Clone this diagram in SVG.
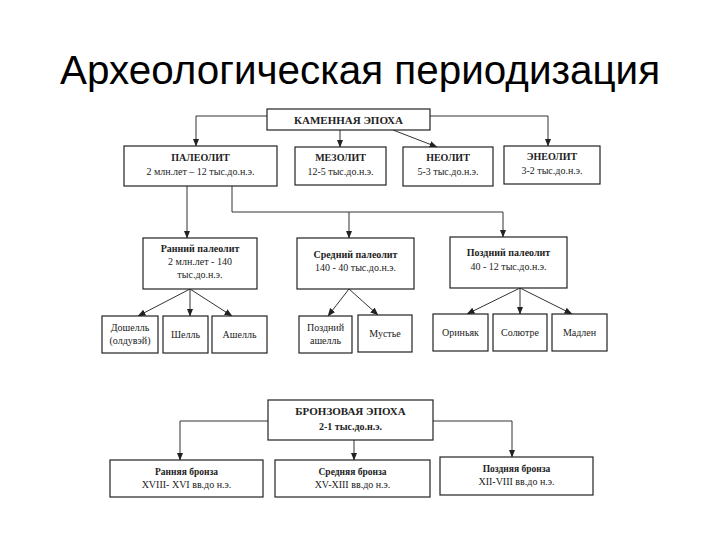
<svg xmlns="http://www.w3.org/2000/svg" width="720" height="540" viewBox="0 0 720 540">
<defs>
<marker id="arr" markerUnits="userSpaceOnUse" markerWidth="8" markerHeight="8" viewBox="0 0 8 8" refX="7.5" refY="4" orient="auto">
<path d="M0,0.8 L8,4 L0,7.2 Z" fill="#222"/>
</marker>
<style>
.box{fill:#fff;stroke:#222;stroke-width:1.2}
.t{font-family:"Liberation Serif","Times New Roman",serif;fill:#222;text-anchor:middle}
.b{font-weight:bold}
.s11{font-size:11px}
.s10{font-size:10px}
.s9{font-size:9.5px}
.c{fill:none;stroke:#333;stroke-width:1;marker-end:url(#arr)}
.title{font-family:"Liberation Sans",Arial,sans-serif;font-size:40px;fill:#000}
</style>
</defs>
<rect width="720" height="540" fill="#fff"/>
<text class="title" x="60" y="84" textLength="600" lengthAdjust="spacingAndGlyphs">Археологическая периодизация</text>

<g id="connectors">
<path class="c" d="M267,116 H196 V146"/>
<path class="c" d="M430,116 H548 V146"/>
<path class="c" d="M340,130 V147"/>
<path class="c" d="M393,130 L437,147"/>
<path class="c" d="M187,186 V238"/>
<path class="c" d="M232,186 V212 H503 V237"/>
<path class="c" d="M349,212 V238"/>
<path class="c" d="M190,289 L138,316"/>
<path class="c" d="M190,289 V316"/>
<path class="c" d="M190,289 L232,316"/>
<path class="c" d="M349,289 L328,316"/>
<path class="c" d="M349,289 L378,315"/>
<path class="c" d="M520,288 L467,314"/>
<path class="c" d="M520,288 V314"/>
<path class="c" d="M520,288 L572,314"/>
<path class="c" d="M268,421 H180 V460"/>
<path class="c" d="M354,440 V460"/>
<path class="c" d="M433,421 H512 V457"/>
</g>

<g id="stone-age">
<rect class="box" x="267" y="109" width="163" height="21"/>
<text class="t b s11" x="348.5" y="123.5">КАМЕННАЯ ЭПОХА</text>
</g>
<g id="paleolit">
<rect class="box" x="124" y="146" width="153" height="40"/>
<text class="t b s10" x="200.5" y="161">ПАЛЕОЛИТ</text>
<text class="t s10" x="200.5" y="175">2 млн.лет – 12 тыс.до.н.э.</text>
</g>
<g id="mezolit">
<rect class="box" x="295" y="147" width="91" height="38"/>
<text class="t b s10" x="340.5" y="161">МЕЗОЛИТ</text>
<text class="t s10" x="340.5" y="175">12-5 тыс.до.н.э.</text>
</g>
<g id="neolit">
<rect class="box" x="403" y="147" width="90" height="39"/>
<text class="t b s10" x="448" y="161">НЕОЛИТ</text>
<text class="t s10" x="448" y="175">5-3 тыс.до.н.э.</text>
</g>
<g id="eneolit">
<rect class="box" x="504" y="146" width="96" height="38"/>
<text class="t b s10" x="552" y="160">ЭНЕОЛИТ</text>
<text class="t s10" x="552" y="174">3-2 тыс.до.н.э.</text>
</g>

<g id="early-paleolit">
<rect class="box" x="143" y="238" width="114" height="51"/>
<text class="t b s10" x="200" y="252">Ранний палеолит</text>
<text class="t s10" x="200" y="265">2 млн.лет - 140</text>
<text class="t s10" x="200" y="278">тыс.до.н.э.</text>
</g>
<g id="middle-paleolit">
<rect class="box" x="297" y="238" width="117" height="51"/>
<text class="t b s10" x="355.5" y="258">Средний палеолит</text>
<text class="t s10" x="355.5" y="271">140 - 40 тыс.до.н.э.</text>
</g>
<g id="late-paleolit">
<rect class="box" x="450" y="237" width="117" height="51"/>
<text class="t b s10" x="508.5" y="256">Поздний палеолит</text>
<text class="t s10" x="508.5" y="270">40 - 12 тыс.до.н.э.</text>
</g>

<g id="doshell">
<rect class="box" x="102" y="316" width="56" height="37"/>
<text class="t s10" x="130" y="331">Дошелль</text>
<text class="t s10" x="130" y="344">(олдувэй)</text>
</g>
<g id="shell">
<rect class="box" x="163" y="316" width="45" height="37"/>
<text class="t s10" x="185.5" y="338">Шелль</text>
</g>
<g id="ashell">
<rect class="box" x="212" y="316" width="55" height="37"/>
<text class="t s10" x="239.5" y="338">Ашелль</text>
</g>
<g id="late-ashell">
<rect class="box" x="299" y="316" width="53" height="37"/>
<text class="t s10" x="325.5" y="331">Поздний</text>
<text class="t s10" x="325.5" y="344">ашелль</text>
</g>
<g id="mustie">
<rect class="box" x="358" y="315" width="54" height="37"/>
<text class="t s10" x="385" y="337">Мустье</text>
</g>
<g id="orinyak">
<rect class="box" x="433" y="314" width="55" height="37"/>
<text class="t s10" x="460.5" y="336">Ориньяк</text>
</g>
<g id="solutre">
<rect class="box" x="493" y="314" width="54" height="37"/>
<text class="t s10" x="520" y="336">Солютре</text>
</g>
<g id="madlen">
<rect class="box" x="552" y="314" width="55" height="37"/>
<text class="t s10" x="579.5" y="336">Мадлен</text>
</g>

<g id="bronze-age">
<rect class="box" x="268" y="400" width="165" height="40"/>
<text class="t b s11" x="350.5" y="415">БРОНЗОВАЯ ЭПОХА</text>
<text class="t b s10" x="350.5" y="430">2-1 тыс.до.н.э.</text>
</g>
<g id="early-bronze">
<rect class="box" x="110" y="460" width="153" height="37"/>
<text class="t b s9" x="186.5" y="475">Ранняя бронза</text>
<text class="t s10" x="186.5" y="488">XVIII- XVI вв.до н.э.</text>
</g>
<g id="middle-bronze">
<rect class="box" x="275" y="460" width="155" height="37"/>
<text class="t b s9" x="352.5" y="475">Средняя бронза</text>
<text class="t s10" x="352.5" y="488">XV-XIII вв.до н.э.</text>
</g>
<g id="late-bronze">
<rect class="box" x="440" y="457" width="153" height="38"/>
<text class="t b s9" x="516.5" y="472">Поздняя бронза</text>
<text class="t s10" x="516.5" y="485">XII-VIII вв.до н.э.</text>
</g>
</svg>
